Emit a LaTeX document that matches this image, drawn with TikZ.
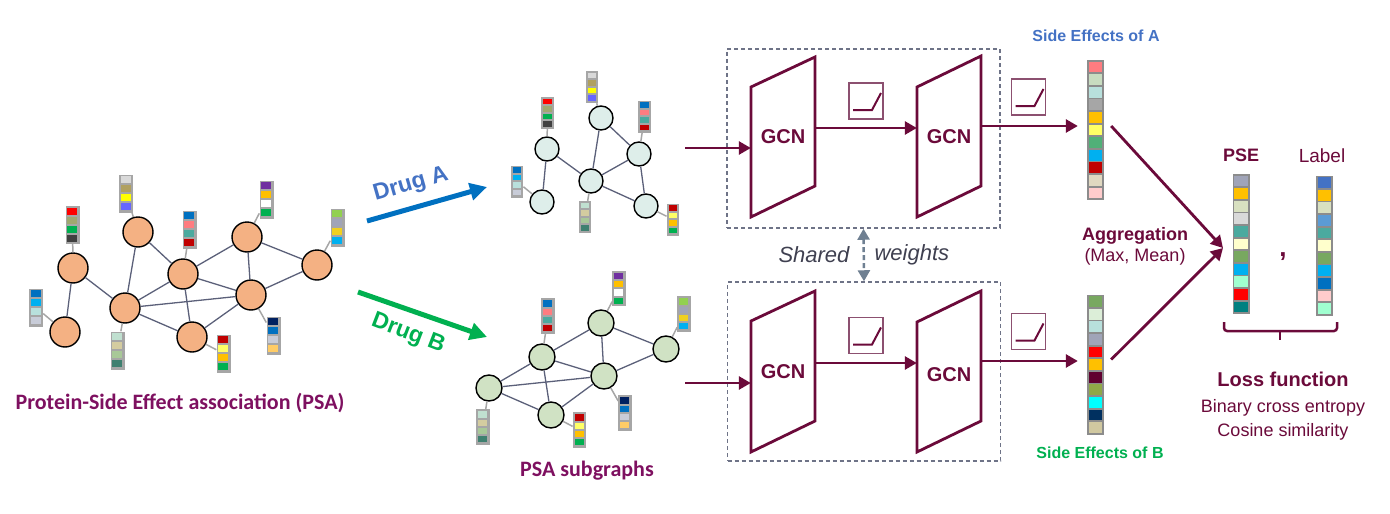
\documentclass[tikz,border=0pt]{standalone}
\usepackage{fontspec}
\setmainfont{Liberation Sans}
\newfontfamily\calibri{Carlito}
\usetikzlibrary{arrows.meta,calc}

% node and frame colours
\definecolor{cProt}{HTML}{F4B183}
\definecolor{cSubA}{HTML}{DEEEEA}
\definecolor{cSubB}{HTML}{D0E2C4}
\definecolor{cLink}{HTML}{5B6079}
\definecolor{cTagFrame}{HTML}{A6A6A6}
\definecolor{cVecFrame}{HTML}{8C8C8C}
\definecolor{cMaroon}{HTML}{6B0A3A}
\definecolor{cPSA}{HTML}{7E1060}
\definecolor{cRelu}{HTML}{8C5070}
\definecolor{cBox}{HTML}{6E7387}
\definecolor{cShare}{HTML}{6F8092}
\definecolor{cShareText}{HTML}{3F4050}
\definecolor{cDrugA}{HTML}{0070C0}
\definecolor{cDrugAText}{HTML}{4472C4}
\definecolor{cDrugB}{HTML}{00B050}
% cell colours
\definecolor{cR}{HTML}{FF0000}
\definecolor{cDR}{HTML}{C00000}
\definecolor{cOl}{HTML}{A0A870}
\definecolor{cGr}{HTML}{00B050}
\definecolor{cDk}{HTML}{404040}
\definecolor{cLg}{HTML}{D9D9D9}
\definecolor{cKh}{HTML}{B0A060}
\definecolor{cYe}{HTML}{FFFF00}
\definecolor{cVi}{HTML}{6666FF}
\definecolor{cBl}{HTML}{0070C0}
\definecolor{cPk}{HTML}{FF7C80}
\definecolor{cTe}{HTML}{4BAA9F}
\definecolor{cPu}{HTML}{7030A0}
\definecolor{cOr}{HTML}{FFC000}
\definecolor{cLgr}{HTML}{92D050}
\definecolor{cGy}{HTML}{A0A4B8}
\definecolor{cGo}{HTML}{F0D020}
\definecolor{cSk}{HTML}{00B0F0}
\definecolor{cPt}{HTML}{B8E0DC}
\definecolor{cPg}{HTML}{C8CCD8}
\definecolor{cMi}{HTML}{C0E0D0}
\definecolor{cSa}{HTML}{D4CCA0}
\definecolor{cSg}{HTML}{A8C898}
\definecolor{cDt}{HTML}{3F8070}
\definecolor{cLy}{HTML}{FFFF66}
\definecolor{cNv}{HTML}{002060}
\definecolor{cPe}{HTML}{FFCC66}
\definecolor{cPgr}{HTML}{C8DCC0}
\definecolor{cMg}{HTML}{A6A6A6}
\definecolor{cMgr}{HTML}{50B078}
\definecolor{cBe}{HTML}{E0D8C0}
\definecolor{cRo}{HTML}{FFCCCC}
\definecolor{cFg}{HTML}{78A860}
\definecolor{cHg}{HTML}{DCEED8}
\definecolor{cMa}{HTML}{600030}
\definecolor{cOl2}{HTML}{90A848}
\definecolor{cCy}{HTML}{00FFFF}
\definecolor{cNv2}{HTML}{003060}
\definecolor{cSa2}{HTML}{D0C8A0}
\definecolor{cPo}{HTML}{D8E0C0}
\definecolor{cCr}{HTML}{FFFFCC}
\definecolor{cAq}{HTML}{A0FFD0}
\definecolor{cTl}{HTML}{008080}
\definecolor{cBl2}{HTML}{4472C4}
\definecolor{cBl3}{HTML}{5B9BD5}

% small feature tag: name, position, pitch, colours
\newcommand{\ftag}[4]{%
  \node[ftag, minimum width=#3+5, minimum height=4*#3+2] (#1) at (#2) {};
  \foreach \c [count=\i] in {#4}
    \fill[\c] ($(#1.north west)+(2,{2+(\i-1)*#3})$) rectangle ++({#3+1},{#3-2});
}
% side effect vector: name, position, colours
\newcommand{\sevec}[3]{%
  \node[sevec] (#1) at (#2) {};
  \foreach \c [count=\i] in {#3}
    \fill[\c] ($(#1.north west)+(1.8,{1.8+(\i-1)*12.6})$) rectangle ++(13.4,10.8);
}

\begin{document}
\begin{tikzpicture}[x=1pt,y=-1pt,
  prot/.style={circle,draw=black,line width=1.4pt,fill=cProt,minimum size=30pt,inner sep=0},
  subA/.style={prot,fill=cSubA,minimum size=24pt},
  subB/.style={prot,fill=cSubB,minimum size=26pt},
  link/.style={draw=cLink,line width=1.3pt},
  tagline/.style={draw=cTagFrame,line width=1.5pt},
  ftag/.style={rectangle,fill=cTagFrame,inner sep=0},
  sevec/.style={rectangle,fill=cVecFrame,inner sep=0,minimum width=17pt,minimum height=140pt},
  flow/.style={draw=cMaroon,line width=2.8pt,-{Triangle[length=12pt,width=13pt]}},
  gcn/.style={draw=cMaroon,line width=2.8pt,line join=miter},
  gcntext/.style={font=\bfseries\fontsize{20}{24}\selectfont,text=cMaroon,minimum width=64pt,minimum height=130pt,inner sep=0},
  relu/.style={draw=cRelu,line width=1.3pt,minimum width=34pt,minimum height=36pt,inner sep=0,
    path picture={\draw[cMaroon,line width=2pt] ($(path picture bounding box.south west)+(4,-9)$) -- ++(19,0) -- ++(9,-17);}},
  dbox/.style={draw=cBox,line width=1.5pt,dash pattern=on 4pt off 3pt,minimum width=273pt,minimum height=179pt,inner sep=0},
  drug/.style={line width=5pt,-{Triangle[length=17pt,width=17pt]}},
  druglbl/.style={font=\bfseries\fontsize{23}{27}\selectfont,inner sep=0},
  title/.style={font=\calibri\bfseries\fontsize{22}{26}\selectfont,text=cPSA},
  word/.style={text=cMaroon,inner sep=0}
]
\useasboundingbox (0,0) rectangle (1390,514);

% protein-side effect association graph
\node[prot] (n1) at (73,268) {};
\node[prot] (n2) at (65,332) {};
\node[prot] (n3) at (138,232) {};
\node[prot] (n4) at (125,308) {};
\node[prot] (n5) at (183,274) {};
\node[prot] (n6) at (247,237) {};
\node[prot] (n7) at (192,337) {};
\node[prot] (n8) at (251,295) {};
\node[prot] (n9) at (317,265) {};
\foreach \a/\b in {n1/n2,n1/n4,n3/n4,n3/n5,n4/n5,n4/n8,n4/n7,n5/n6,n5/n8,n5/n7,n6/n8,n6/n9,n7/n8,n8/n9}
  \draw[link] (\a) -- (\b);

\ftag{t1}{72.5,225}{9}{cR,cOl,cGr,cDk}
\ftag{t2}{36,307.5}{9}{cBl,cSk,cPt,cPg}
\ftag{t3}{126,193.5}{9}{cLg,cKh,cYe,cVi}
\ftag{t4}{117.5,350.5}{9}{cMi,cSa,cSg,cDt}
\ftag{t5}{189.5,229.5}{9}{cBl,cPk,cTe,cDR}
\ftag{t6}{266.5,199.5}{9}{cPu,cOr,white,cGr}
\ftag{t7}{223.5,353.5}{9}{cDR,cLy,cOr,cGr}
\ftag{t8}{273.5,335.5}{9}{cNv,cBl,cPg,cPe}
\ftag{t9}{337.5,227.5}{9}{cLgr,cGy,cGo,cSk}
\foreach \i in {1,...,9}
  \draw[tagline] (t\i) -- (n\i);

\node[title] (psa) at (180,403) {Protein-Side Effect association (PSA)};

% drug arrows
\coordinate (dA0) at (367,221);
\coordinate (dA1) at (487,187);
\coordinate (dB0) at (358,292);
\coordinate (dB1) at (487,337);
\draw[drug,cDrugA] (dA0) -- (dA1);
\draw[drug,cDrugB] (dB0) -- (dB1);
\node[druglbl,text=cDrugAText,rotate=16] (drugA) at (411,185) {Drug A};
\node[druglbl,text=cDrugB,rotate=-21] (drugB) at (408,334) {Drug B};

% subgraph of drug A
\node[subA] (a1) at (547,149) {};
\node[subA] (a2) at (542,202) {};
\node[subA] (a3) at (601,118) {};
\node[subA] (a4) at (591,181) {};
\node[subA] (a5) at (639,154) {};
\node[subA] (a6) at (646,206) {};
\foreach \a/\b in {a1/a2,a1/a4,a3/a4,a3/a5,a4/a5,a4/a6,a5/a6}
  \draw[link] (\a) -- (\b);
\ftag{ta1}{547.5,113}{7.5}{cR,cOl,cGr,cDk}
\ftag{ta2}{517,181.5}{7.5}{cBl,cSk,cPt,cPg}
\ftag{ta3}{592,87}{7.5}{cLg,cKh,cYe,cVi}
\ftag{ta4}{585,217}{7.5}{cMi,cSa,cSg,cDt}
\ftag{ta5}{644.5,116.5}{7.5}{cBl,cPk,cTe,cDR}
\ftag{ta6}{673,219.5}{7.5}{cDR,cLy,cOr,cGr}
\foreach \i in {1,...,6}
  \draw[tagline] (ta\i) -- (a\i);

% subgraph of drug B
\node[subB] (b1) at (542,357) {};
\node[subB] (b2) at (489,388) {};
\node[subB] (b3) at (601,323) {};
\node[subB] (b4) at (604,376) {};
\node[subB] (b5) at (666,349) {};
\node[subB] (b6) at (551,415) {};
\foreach \a/\b in {b1/b2,b1/b3,b1/b4,b1/b6,b2/b4,b2/b6,b3/b4,b3/b5,b4/b5,b4/b6}
  \draw[link] (\a) -- (\b);
\ftag{tb1}{548,316}{8.3}{cBl,cPk,cTe,cDR}
\ftag{tb2}{483,427}{8.3}{cMi,cSa,cSg,cDt}
\ftag{tb3}{619,288.5}{8.3}{cPu,cOr,white,cGr}
\ftag{tb4}{625,413}{8.3}{cNv,cBl,cPg,cPe}
\ftag{tb5}{684,314}{8.3}{cLgr,cGy,cGo,cSk}
\ftag{tb6}{579.5,430}{8.3}{cDR,cLy,cOr,cGr}
\foreach \i in {1,...,6}
  \draw[tagline] (tb\i) -- (b\i);

\node[title] (sub) at (587,471) {PSA subgraphs};

% GCN branches with shared weights
\node[dbox] (boxA) at (863.5,138.5) {};
\node[dbox] (boxB) at (864,371.5) {};

\draw[gcn] (751,87) -- (815,57) -- (815,186) -- (751,217) -- cycle;
\draw[gcn] (917,87) -- (981,56) -- (981,186) -- (917,217) -- cycle;
\node[gcntext] (gA1) at (783,137) {GCN};
\node[gcntext] (gA2) at (949,137) {GCN};
\draw[gcn] (751,321) -- (815,291) -- (815,421) -- (751,452) -- cycle;
\draw[gcn] (917,322) -- (981,291) -- (981,421) -- (917,452) -- cycle;
\node[gcntext] (gB1) at (783,372) {GCN};
\node[gcntext] (gB2) at (949,375) {GCN};

\node[relu] (rA1) at (866,101) {};
\node[relu] (rA2) at (1028.5,97) {};
\node[relu] (rB1) at (866,335.5) {};
\node[relu] (rB2) at (1028.5,331.5) {};

\coordinate (inA) at (685,148);
\coordinate (inB) at (685,383);
\draw[flow] (inA) -- (inA -| gA1.west);
\draw[flow] (inB) -- (inB -| gB1.west);
\draw[flow] ([yshift=9pt]gA1.east) -- ([yshift=9pt]gA1.east -| gA2.west);
\draw[flow] ([yshift=9pt]gB1.east) -- ([yshift=9pt]gB1.east -| gB2.west);

\draw[cShare,line width=2.5pt,dash pattern=on 5pt off 3pt,{Triangle[length=11pt,width=12pt]}-{Triangle[length=11pt,width=12pt]}] (boxA.south) -- (boxB.north);
\node[font=\itshape\fontsize{22}{26}\selectfont,text=cShareText,anchor=east] (shared) at (853,255) {Shared};
\node[font=\itshape\fontsize{22}{26}\selectfont,text=cShareText,anchor=west] (weights) at (871,255) {weights};

% side effect vectors
\sevec{seA}{1095.5,130}{cPk,cPgr,cPt,cMg,cOr,cLy,cMgr,cSk,cDR,cBe,cRo}
\sevec{seB}{1095.5,364.5}{cFg,cHg,cPt,cGy,cR,cOr,cMa,cOl2,cCy,cNv2,cSa2}
\node[font=\bfseries\fontsize{16}{19}\selectfont,text=cDrugAText] (seAlbl) at (1096,36) {Side Effects of A};
\node[font=\bfseries\fontsize{16}{19}\selectfont,text=cDrugB] (seBlbl) at (1100,453) {Side Effects of B};
\draw[flow] ([yshift=11pt]gA2.east) -- ([yshift=11pt,xshift=-9pt]gA2.east -| seA.west);
\draw[flow] ([yshift=14pt]gB2.east) -- ([yshift=14pt,xshift=-9pt]gB2.east -| seB.west);

% aggregation
\coordinate (agg) at (1223,248);
\draw[flow] ([xshift=7pt,yshift=4pt]seA.east) -- (agg);
\draw[flow] ([xshift=7pt,yshift=5pt]seB.east) -- (agg);
\node[word,font=\bfseries\fontsize{18}{21}\selectfont] (aggr) at (1135,236) {Aggregation};
\node[word,font=\fontsize{18}{21}\selectfont] (mm) at (1135,257) {(Max, Mean)};

% loss
\sevec{pse}{1241,244}{cGy,cOr,cPo,cLg,cTe,cCr,cFg,cSk,cAq,cR,cTl}
\sevec{lab}{1324.5,245.5}{cBl2,cOr,cPo,cBl3,cTe,cCr,cFg,cSk,cBl,cRo,cAq}
\node[word,font=\bfseries\fontsize{18}{21}\selectfont] (pselbl) at (1241,155) {PSE};
\node[word,font=\fontsize{19}{22}\selectfont] (lablbl) at (1322,156) {Label};
\node[word,font=\bfseries\fontsize{26}{30}\selectfont,anchor=base] (comma) at (1283,256) {,};
\draw[cMaroon,line width=2.5pt,rounded corners=3pt] (1224,322) -- (1224,331) -- (1337,331) -- (1337,322);
\draw[cMaroon,line width=2.5pt] (1280,331) -- (1280,340);
\node[word,font=\bfseries\fontsize{20}{24}\selectfont] (loss) at (1283,379) {Loss function};
\node[word,font=\fontsize{18}{21}\selectfont] (bce) at (1283,408) {Binary cross entropy};
\node[word,font=\fontsize{18}{21}\selectfont] (cos) at (1283,432) {Cosine similarity};
\end{tikzpicture}
\end{document}
